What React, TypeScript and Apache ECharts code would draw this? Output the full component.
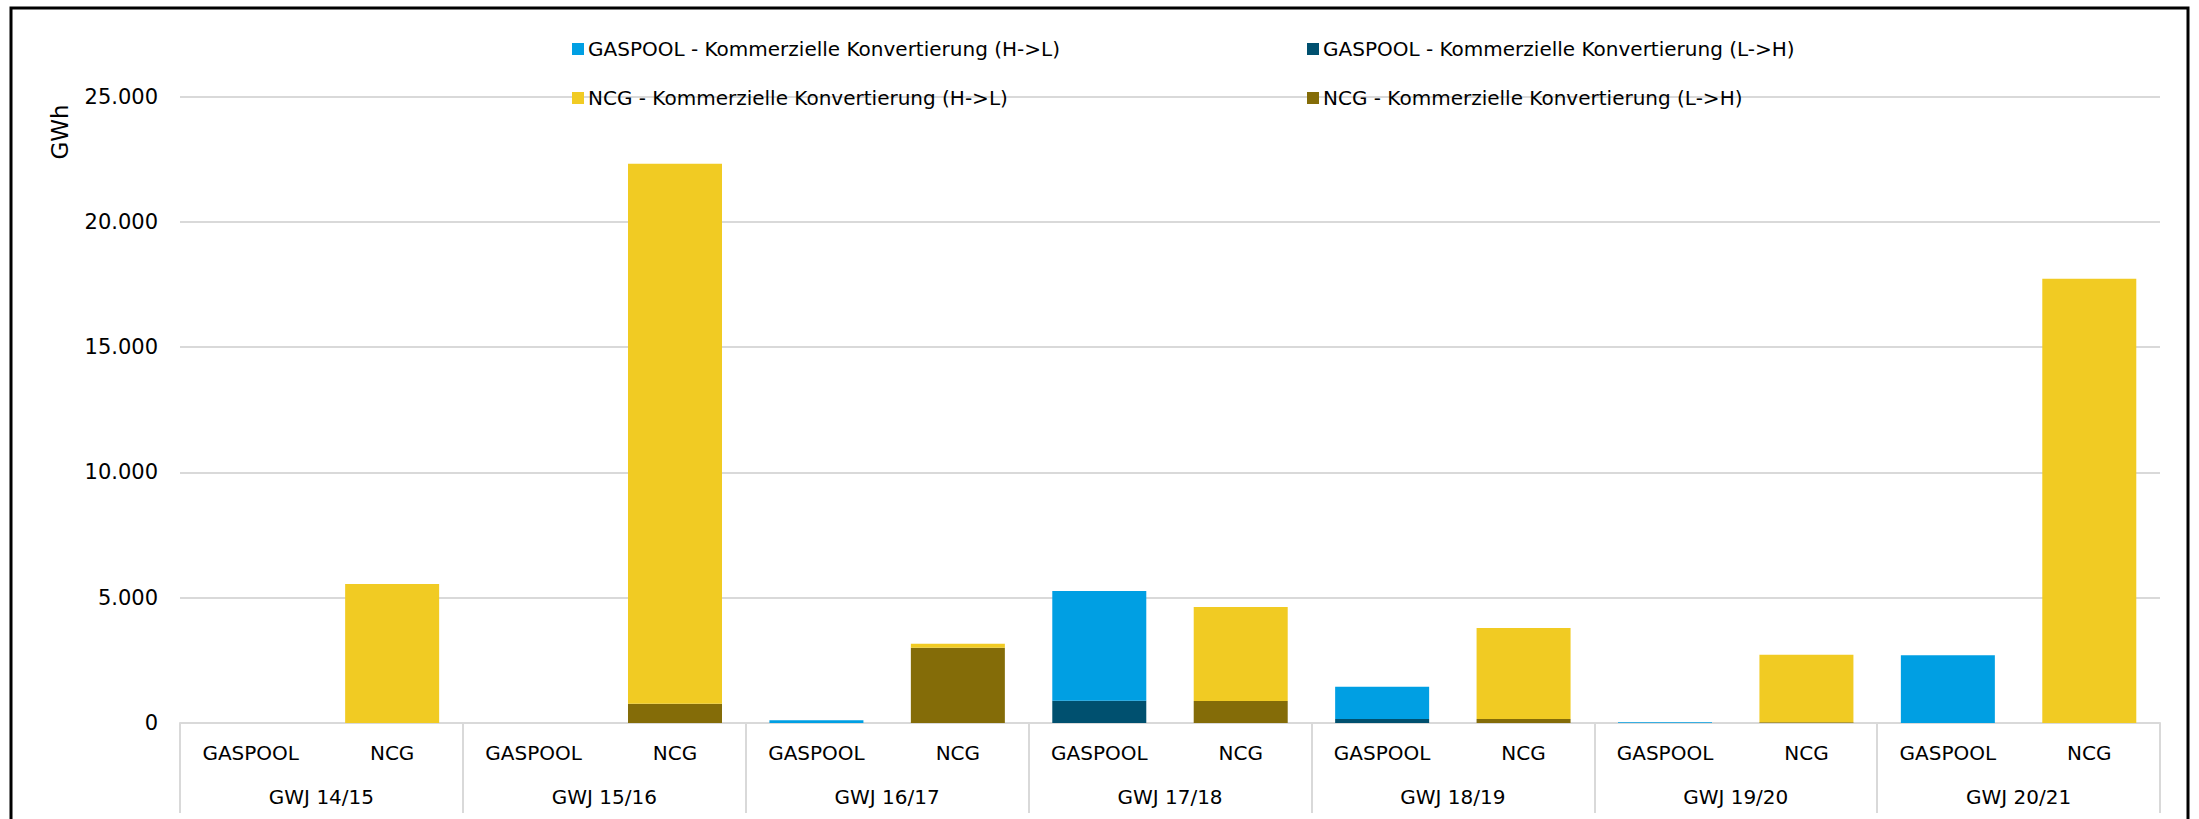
import React, { useEffect, useRef } from "react";
import * as echarts from "echarts";

const groups = ["GWJ 14/15", "GWJ 15/16", "GWJ 16/17", "GWJ 17/18", "GWJ 18/19", "GWJ 19/20", "GWJ 20/21"];
const subCategories = ["GASPOOL", "NCG"];
const yTicks = [0, 5000, 10000, 15000, 20000, 25000];

const gaspoolHL = [0, 0, 110, 4380, 1290, 25, 2700];
const gaspoolLH = [0, 0, 0, 890, 160, 0, 0];
const ncgHL = [5545, 21550, 160, 3750, 3630, 2695, 17730];
const ncgLH = [0, 770, 3005, 880, 160, 30, 0];

const seriesNames = [
  "GASPOOL - Kommerzielle Konvertierung (H->L)",
  "GASPOOL - Kommerzielle Konvertierung (L->H)",
  "NCG - Kommerzielle Konvertierung (H->L)",
  "NCG - Kommerzielle Konvertierung (L->H)",
];
const colors = ["#009FE3", "#00506F", "#F1CB23", "#846C08"];

const FONT = "DejaVu Sans";

function fmt(v: number): string {
  return String(v).replace(/\B(?=(\d{3})+(?!\d))/g, ".");
}

export default function App() {
  const ref = useRef<HTMLDivElement>(null);
  useEffect(() => {
    if (!ref.current) return;
    const chart = echarts.init(ref.current, undefined, { renderer: "svg" });

    const inner: string[] = [];
    groups.forEach(() => subCategories.forEach((s) => inner.push(s)));

    const atGaspool = (arr: number[]) => {
      const out: (number | string)[] = [];
      arr.forEach((v) => {
        out.push(v);
        out.push("-");
      });
      return out;
    };
    const atNcg = (arr: number[]) => {
      const out: (number | string)[] = [];
      arr.forEach((v) => {
        out.push("-");
        out.push(v);
      });
      return out;
    };

    const mkSeries = (idx: number, data: (number | string)[]) => ({
      name: seriesNames[idx],
      type: "bar",
      stack: "total",
      xAxisIndex: 0,
      barWidth: 94,
      itemStyle: { color: colors[idx] },
      data,
    });

    const legendPos = [
      { left: 572, top: 39 },
      { left: 1307, top: 39 },
      { left: 572, top: 88 },
      { left: 1307, top: 88 },
    ];

    chart.setOption({
      animation: false,
      backgroundColor: "#ffffff",
      grid: { left: 180, right: 39, top: 96.5, bottom: 96, containLabel: false },
      legend: legendPos.map((p, i) => ({
        left: p.left,
        top: p.top,
        padding: 0,
        itemWidth: 12,
        itemHeight: 12,
        itemGap: 0,
        icon: "rect",
        selectedMode: false,
        data: [seriesNames[i]],
        textStyle: { fontFamily: FONT, fontSize: 20, color: "#000", padding: [0, 0, 0, -1] },
      })),
      xAxis: [
        {
          type: "category",
          data: inner,
          position: "bottom",
          axisLine: { show: true, lineStyle: { color: "#D9D9D9", width: 2 } },
          axisTick: { show: false },
          axisLabel: {
            interval: 0,
            margin: 20,
            fontFamily: FONT,
            fontSize: 20,
            color: "#000",
          },
        },
        {
          type: "category",
          data: groups,
          position: "bottom",
          axisLine: { show: false },
          axisTick: {
            show: true,
            inside: false,
            length: 90,
            interval: 0,
            lineStyle: { color: "#D9D9D9", width: 2 },
          },
          axisLabel: {
            interval: 0,
            margin: 64,
            fontFamily: FONT,
            fontSize: 20,
            color: "#000",
          },
        },
      ],
      yAxis: {
        type: "value",
        min: yTicks[0],
        max: yTicks[yTicks.length - 1],
        interval: 5000,
        axisLine: { show: false },
        axisTick: { show: false },
        splitLine: { show: true, lineStyle: { color: "#D9D9D9", width: 2 } },
        axisLabel: {
          margin: 22,
          fontFamily: FONT,
          fontSize: 21,
          color: "#000",
          formatter: (v: number) => fmt(v),
        },
      },
      graphic: [
        {
          type: "rect",
          shape: { x: 11, y: 8, width: 2177, height: 840 },
          style: { fill: "none", stroke: "#000", lineWidth: 3 },
          silent: true,
        },
        {
          type: "text",
          x: 60,
          y: 132,
          rotation: Math.PI / 2,
          style: {
            text: "GWh",
            fontFamily: FONT,
            fontSize: 23,
            fill: "#000",
            align: "center",
            verticalAlign: "middle",
          },
        },
      ],
      series: [
        mkSeries(1, atGaspool(gaspoolLH)),
        mkSeries(0, atGaspool(gaspoolHL)),
        mkSeries(3, atNcg(ncgLH)),
        mkSeries(2, atNcg(ncgHL)),
      ],
    });
    return () => chart.dispose();
  }, []);

  return (
    <div
      ref={ref}
      style={{ position: "fixed", left: 0, top: 0, width: 2199, height: 819, background: "#fff" }}
    />
  );
}
